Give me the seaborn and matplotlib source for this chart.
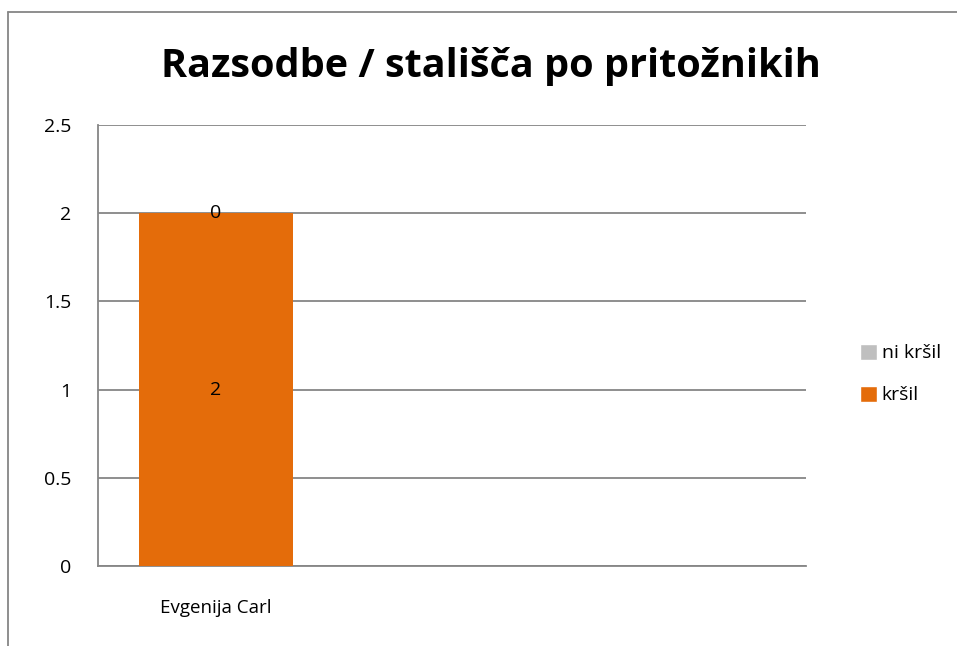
import numpy as np
import pandas as pd
import matplotlib.pyplot as plt
import seaborn as sns
from matplotlib.patches import Patch

categories = ["Evgenija Carl", " ", "  "]
krsil = [2, np.nan, np.nan]
ni_krsil = [0, np.nan, np.nan]
series_names = ["ni kršil", "kršil"]
colors = {"kršil": "#E46C0A", "ni kršil": "#BFBFBF"}

sns.set_theme(style="white")
plt.rcParams['font.family'] = ['Open Sans', 'DejaVu Sans']
plt.rcParams['text.color'] = 'black'
plt.rcParams['xtick.color'] = 'black'
plt.rcParams['ytick.color'] = 'black'

df = pd.DataFrame({"kandidat": categories, "kršil": krsil, "ni kršil": ni_krsil})
df["skupaj"] = df["kršil"] + df["ni kršil"]

fig = plt.figure(figsize=(9.57, 6.46), dpi=100)
ax = fig.add_axes([98 / 957, 1 - 566 / 646, (806 - 98) / 957, (566 - 125) / 646])

# stacked: total first (gray), then kršil on top of it
sns.barplot(data=df, x="kandidat", y="skupaj", order=categories, color=colors["ni kršil"],
            width=0.65, saturation=1, linewidth=0, ax=ax, zorder=3)
sns.barplot(data=df, x="kandidat", y="kršil", order=categories, color=colors["kršil"],
            width=0.65, saturation=1, linewidth=0, ax=ax, zorder=3)

for i, cat in enumerate(categories):
    k = krsil[i]
    n = ni_krsil[i]
    if np.isnan(k):
        continue
    ax.text(i, k / 2, f"{k:g}", ha="center", va="center", fontsize=14, color="black", zorder=5)
    ax.text(i, k + n / 2, f"{n:g}", ha="center", va="center", fontsize=14, color="black", zorder=5)

ax.set_ylim(0, 2.5)
ax.set_yticks([0, 0.5, 1, 1.5, 2, 2.5])
ax.set_yticklabels(["0", "0.5", "1", "1.5", "2", "2.5"], fontsize=14)
ax.set_xlim(-0.5, len(categories) - 0.5)
ax.tick_params(axis="x", labelsize=13.5, pad=24, length=0)
ax.tick_params(axis="y", pad=19, length=0)
ax.set_xlabel("")
ax.set_ylabel("")
ax.grid(axis="y", color="#868686", linewidth=1.3, zorder=0)
ax.set_axisbelow(True)
for s in ["top", "right"]:
    ax.spines[s].set_visible(False)
for s in ["left", "bottom"]:
    ax.spines[s].set_color("#868686")
    ax.spines[s].set_linewidth(1.3)

fig.text(491 / 957, 1 - 67 / 646, "Razsodbe / stališča po pritožnikih", ha="center", va="center",
         fontsize=28.5, fontweight="bold", color="black")

handles = [Patch(facecolor=colors[s], label=s) for s in series_names]
fig.legend(handles=handles, loc="center left", bbox_to_anchor=(842 / 957, 1 - 374 / 646),
           frameon=False, fontsize=14, handlelength=0.9, handleheight=0.9, handletextpad=0.25,
           labelspacing=1.2)

# chart area border (top and left visible)
fig.add_artist(plt.Line2D([8 / 957, 8 / 957], [0, 1 - 12 / 646], color="#868686", linewidth=1.3))
fig.add_artist(plt.Line2D([8 / 957, 1], [1 - 12 / 646, 1 - 12 / 646], color="#868686", linewidth=1.3))

fig.savefig("out.png", dpi=100)
